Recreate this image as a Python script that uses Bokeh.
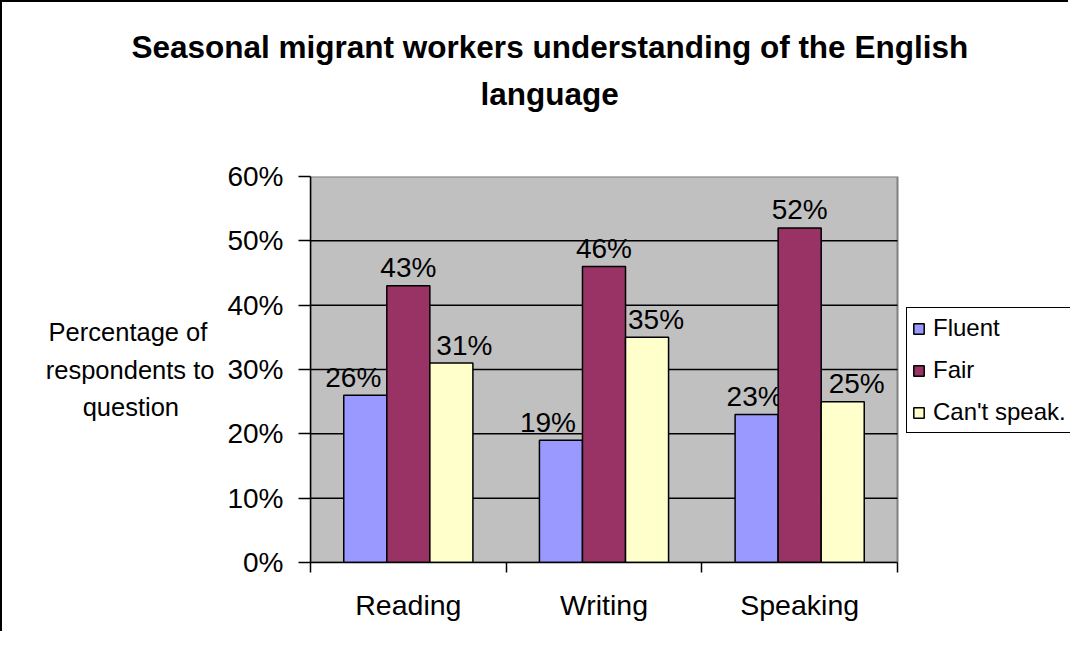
from bokeh.plotting import figure
from bokeh.models import (Range1d, FixedTicker, NumeralTickFormatter, ColumnDataSource,
                          Legend, LegendItem, Title)
from bokeh.core.properties import value
from bokeh.embed import file_html
from bokeh.resources import INLINE

# ---- data ----
categories = ["Reading", "Writing", "Speaking"]
series_names = ["Fluent", "Fair", "Can't speak."]
fluent = [0.26, 0.19, 0.23]
fair = [0.43, 0.46, 0.52]
cant_speak = [0.31, 0.35, 0.25]
y_ticks = [0.0, 0.1, 0.2, 0.3, 0.4, 0.5, 0.6]
title_lines = ["Seasonal migrant workers understanding of the English", "language"]
y_title_lines = ["Percentage of\u00a0", "respondents to", "question" + "\u00a0" * 5]

# ---- style ----
FONT = "Liberation Sans"
colors = ["#9999FF", "#993366", "#FFFFCC"]
bar_offsets = [-0.22, 0.0, 0.22]
bar_width = 0.22
label_dx = [[-12, -13, -2], [0, 0, 0], [13, 9, 14]]

# canvas geometry: the frame also holds the legend area to the right of the plot area
W, H = 1068, 631
LEFT, TOP, BOTTOM = 308, 174, 71
PLOT_W = 587                     # width of the grey plot area in pixels
FRAME_W = W - LEFT               # frame runs to the right edge of the canvas
n = len(categories)
x_end = n * FRAME_W / PLOT_W

p = figure(width=W, height=H, x_range=Range1d(0, x_end), y_range=Range1d(0, y_ticks[-1]),
           output_backend="svg", toolbar_location=None,
           min_border_left=LEFT, min_border_right=0, min_border_top=TOP, min_border_bottom=BOTTOM)
p.background_fill_color = "white"
p.border_fill_color = "white"
p.outline_line_color = None
p.styles = {"border-left": "2px solid black", "border-top": "2px solid black"}
p.xgrid.visible = False
p.ygrid.visible = False

# grey plot area with grey border, and horizontal gridlines
p.quad(left=[0], right=[n], bottom=[y_ticks[0]], top=[y_ticks[-1]],
       fill_color="#C0C0C0", line_color="#808080", line_width=2)
grid_y = y_ticks[1:-1]
p.segment(x0=[0] * len(grid_y), x1=[n] * len(grid_y), y0=grid_y, y1=grid_y,
          line_color="black", line_width=1.5)

# x axis: labels at category centres, tick marks at category boundaries
centers = [i + 0.5 for i in range(n)]
bounds = [float(i) for i in range(n + 1)]
p.xaxis.bounds = (0, n)
p.xaxis.ticker = FixedTicker(ticks=centers, minor_ticks=bounds)
p.xaxis.major_label_overrides = {c: name for c, name in zip(centers, categories)}
p.xaxis.major_tick_line_color = None
p.xaxis.major_tick_out = 10
p.xaxis.major_tick_in = 0
p.xaxis.minor_tick_line_color = "black"
p.xaxis.minor_tick_line_width = 1.5
p.xaxis.minor_tick_out = 10
p.xaxis.minor_tick_in = 0
p.xaxis.axis_line_color = "black"
p.xaxis.axis_line_width = 1.5
p.xaxis.major_label_text_font = FONT
p.xaxis.major_label_text_font_size = "28.5px"
p.xaxis.major_label_text_color = "black"
p.xaxis.major_label_standoff = 16

# y axis
p.yaxis.ticker = FixedTicker(ticks=y_ticks)
p.yaxis.formatter = NumeralTickFormatter(format="0%")
p.yaxis.major_tick_out = 12
p.yaxis.major_tick_in = 0
p.yaxis.major_tick_line_width = 1.5
p.yaxis.major_tick_line_color = "black"
p.yaxis.minor_tick_line_color = None
p.yaxis.axis_line_color = "black"
p.yaxis.axis_line_width = 1.5
p.yaxis.major_label_text_font = FONT
p.yaxis.major_label_text_font_size = "28px"
p.yaxis.major_label_text_color = "black"
p.yaxis.major_label_standoff = 15
p.yaxis.axis_label = "\n".join(y_title_lines)
p.yaxis.axis_label_orientation = "horizontal"
p.yaxis.axis_label_text_font = FONT
p.yaxis.axis_label_text_font_size = "25.5px"
p.yaxis.axis_label_text_font_style = "normal"
p.yaxis.axis_label_text_color = "black"
p.yaxis.axis_label_text_line_height = 1.35
p.yaxis.axis_label_standoff = 10

# bars and data labels
items = []
for j, vals in enumerate([fluent, fair, cant_speak]):
    src = ColumnDataSource(dict(
        x=[c + bar_offsets[j] for c in centers],
        top=vals,
        label=[f"{round(v * 100)}%" for v in vals],
        dx=label_dx[j],
    ))
    r = p.vbar(x="x", top="top", width=bar_width, source=src,
               fill_color=colors[j], line_color="black", line_width=1.5)
    p.text(x="x", y="top", text="label", source=src, x_offset="dx", y_offset=-18,
           text_font=value(FONT), text_font_size="28px", text_color="black",
           text_align="center", text_baseline="alphabetic")
    items.append(LegendItem(label=series_names[j], renderers=[r]))

legend = Legend(items=items, location=(PLOT_W + 9, 129), orientation="vertical",
                border_line_color="black", border_line_width=1.5, border_line_alpha=1.0,
                background_fill_color="white", background_fill_alpha=1.0,
                padding=5, spacing=12, margin=0,
                glyph_height=13, glyph_width=13, label_height=30, label_standoff=8,
                label_text_font=FONT, label_text_font_size="24px", label_text_color="black")
p.add_layout(legend)

# title: spacer, then second line, then first line (stacked outward from the frame)
spacer = Title(text=" ", text_font_size="1px", standoff=62)
t2 = Title(text=title_lines[1], align="left", offset=170, standoff=0,
           text_font=FONT, text_font_size="31.5px", text_font_style="bold", text_color="black")
t1 = Title(text=title_lines[0], align="left", offset=-179, standoff=18,
           text_font=FONT, text_font_size="31.5px", text_font_style="bold", text_color="black")
p.add_layout(spacer, "above")
p.add_layout(t2, "above")
p.add_layout(t1, "above")

open("out.html", "w").write(file_html(p, INLINE))
